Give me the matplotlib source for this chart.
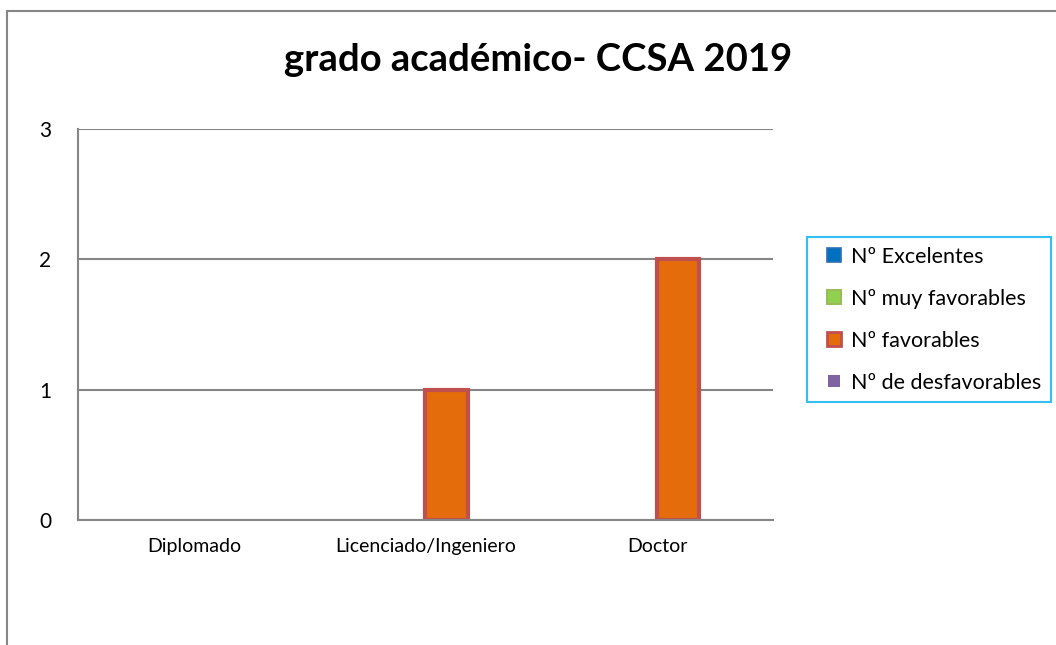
import numpy as np
import matplotlib
matplotlib.use("Agg")
from matplotlib import pyplot as plt
from matplotlib.patches import Rectangle
from matplotlib.lines import Line2D

plt.rcParams['font.family'] = ['Lato', 'DejaVu Sans']

categories = ['Diplomado', 'Licenciado/Ingeniero', 'Doctor']
series_names = ['Nº Excelentes', 'Nº muy favorables', 'Nº favorables', 'Nº de desfavorables']
excelentes = [0, 0, 0]
muy_favorables = [0, 0, 0]
favorables = [0, 1, 2]
desfavorables = [0, 0, 0]
series_values = [excelentes, muy_favorables, favorables, desfavorables]

fills = ['#0070C0', '#92D050', '#E46C0A', '#8064A2']
edges = ['#2F6EB5', '#9BBB59', '#C0504D', '#8064A2']

fig = plt.figure(figsize=(10.56, 6.45), dpi=100)

# outer chart border (cut off at right and bottom like the screenshot)
fig.patches.append(Rectangle((7 / 1056, -0.1), 1.2, 1 - 11 / 645 + 0.1,
                             transform=fig.transFigure, fill=False,
                             edgecolor='#868686', linewidth=1.5))

ax = fig.add_axes([78 / 1056, 125 / 645, 695 / 1056, 391 / 645])

x = np.arange(len(categories))
w = 1 / 5.5
for i, vals in enumerate(series_values):
    lws = [3 if v > 0 else 0 for v in vals]
    ax.bar(x + (i - 1.5) * w, vals, width=w, color=fills[i], edgecolor=edges[i],
           linewidth=lws, label=series_names[i], zorder=3)

ax.set_xlim(-0.5, 2.5)
ax.set_ylim(0, 3)
ax.set_yticks([0, 1, 2, 3])
ax.set_xticks(x)
ax.set_xticklabels(categories, fontsize=14)
ax.tick_params(axis='y', length=0, pad=19, labelsize=15)
ax.tick_params(axis='x', length=0, pad=13)
ax.yaxis.grid(True, color='#868686', linewidth=1.5, zorder=1)
ax.set_axisbelow(True)
for s in ['top', 'right']:
    ax.spines[s].set_visible(False)
for s in ['left', 'bottom']:
    ax.spines[s].set_color('#868686')
    ax.spines[s].set_linewidth(1.5)
    ax.spines[s].set_zorder(4)

fig.text(538 / 1056, 1 - 60 / 645, 'grado académico- CCSA 2019', ha='center', va='center',
         fontsize=27.5, fontweight='bold')

# square legend keys like the spreadsheet legend
msizes = [10.5, 10.5, 10.5, 8.5]
mew = [1.2, 1.5, 2.0, 0]
handles = [Line2D([], [], linestyle='none', marker='s', markersize=msizes[i],
                  markerfacecolor=fills[i], markeredgecolor=edges[i],
                  markeredgewidth=mew[i]) for i in range(len(series_names))]

leg = ax.legend(handles, series_names, loc='upper left',
                bbox_to_anchor=(807 / 1056, 1 - 237 / 645),
                bbox_transform=fig.transFigure, fontsize=15.5, frameon=True,
                fancybox=False, handlelength=1.6, handletextpad=0.0,
                labelspacing=1.02, borderpad=0.45, borderaxespad=0)
leg.get_frame().set_edgecolor('#00B0F0')
leg.get_frame().set_linewidth(1.5)

fig.savefig('out.png', dpi=100)
